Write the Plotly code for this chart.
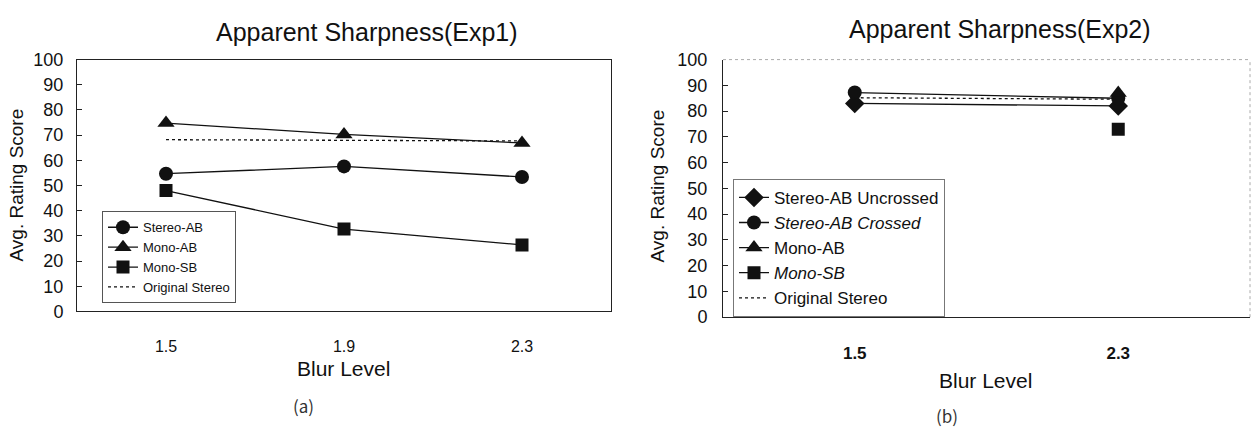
import plotly.graph_objects as go

# ---------------- data ----------------
blur_exp1 = ["1.5", "1.9", "2.3"]
stereo_ab_exp1 = [54.7, 57.6, 53.4]
mono_ab_exp1 = [74.8, 70.3, 66.9]
mono_sb_exp1 = [48.0, 32.7, 26.4]
original_exp1 = [68.2, 68.0, 67.7]

blur_exp2 = ["1.5", "2.3"]
stereo_uncrossed_exp2 = [83.0, 82.0]
stereo_crossed_exp2 = [87.2, 85.0]
mono_ab_exp2 = [None, 87.0]
mono_sb_exp2 = [None, 73.0]
original_exp2 = [85.2, 84.6]

y_ticks = list(range(0, 101, 10))

FONT = "Liberation Sans, Arial, sans-serif"
BLACK = "#111111"

fig = go.Figure()


def add(x, y, name, symbol, size, xa, ya, legend, dash="solid", mode="lines+markers"):
    fig.add_trace(go.Scatter(
        x=x, y=y, name=name, mode=mode, xaxis=xa, yaxis=ya, legend=legend,
        line=dict(color=BLACK, width=1.3, dash=dash),
        marker=dict(symbol=symbol, size=size, color=BLACK, line=dict(width=0)),
        connectgaps=False, hoverinfo="skip",
    ))


# left chart (Exp1)
add(blur_exp1, stereo_ab_exp1, "Stereo-AB", "circle", 14, "x", "y", "legend")
add(blur_exp1, mono_ab_exp1, "Mono-AB", "triangle-up", 15, "x", "y", "legend")
add(blur_exp1, mono_sb_exp1, "Mono-SB", "square", 13, "x", "y", "legend")
add(blur_exp1, original_exp1, "Original Stereo", "circle", 1, "x", "y", "legend", dash="dot", mode="lines")

# right chart (Exp2)
add(blur_exp2, stereo_uncrossed_exp2, "Stereo-AB Uncrossed", "diamond", 15, "x2", "y2", "legend2")
add(blur_exp2, stereo_crossed_exp2, "<i>Stereo-AB Crossed</i>", "circle", 14, "x2", "y2", "legend2")
add(blur_exp2, mono_ab_exp2, "Mono-AB", "triangle-up", 15, "x2", "y2", "legend2")
add(blur_exp2, mono_sb_exp2, "<i>Mono-SB</i>", "square", 13, "x2", "y2", "legend2")
add(blur_exp2, original_exp2, "Original Stereo", "circle", 1, "x2", "y2", "legend2", dash="dot", mode="lines")

W, H = 1252, 434


def px(v):
    return v / W


def py(v):
    return 1 - v / H


axis_common = dict(showgrid=False, zeroline=False, fixedrange=True,
                   linecolor="#222222", linewidth=1, showline=True)

fig.update_layout(
    width=W, height=H,
    margin=dict(l=0, r=0, t=0, b=0),
    paper_bgcolor="white", plot_bgcolor="white",
    font=dict(family=FONT, color=BLACK),
    xaxis=dict(**axis_common, type="category", range=[-0.5, 2.5],
               domain=[px(77), px(611)], anchor="y", mirror=True,
               ticks="", tickfont=dict(size=16), ticklabelstandoff=20),
    yaxis=dict(**axis_common, range=[0, 100], tickvals=y_ticks,
               domain=[py(316), py(52)], anchor="x", mirror=True,
               ticks="inside", ticklen=5, tickcolor="#222222",
               tickfont=dict(size=18), ticklabelstandoff=9),
    xaxis2=dict(**axis_common, type="category", range=[-0.5, 1.5],
                domain=[px(723), px(1250)], anchor="y2",
                ticks="", tickfont=dict(size=17, weight="bold"), ticklabelstandoff=20),
    yaxis2=dict(**axis_common, range=[0, 100], tickvals=y_ticks,
                domain=[py(322), py(52)], anchor="x2",
                ticks="inside", ticklen=5, tickcolor="#222222",
                tickfont=dict(size=18), ticklabelstandoff=11),
    legend=dict(x=px(102), y=py(211), xanchor="left", yanchor="top",
                bordercolor="#555555", borderwidth=1, bgcolor="white",
                font=dict(size=13, family=FONT), tracegroupgap=0, itemwidth=30),
    legend2=dict(x=px(733), y=py(177), xanchor="left", yanchor="top",
                 bordercolor="#777777", borderwidth=1, bgcolor="white",
                 font=dict(size=17, family=FONT), tracegroupgap=0, itemwidth=30),
    showlegend=True,
)

# dotted top/right border of the right plot area
fig.add_shape(type="line", xref="x2 domain", yref="y2 domain", x0=0, x1=1, y0=1, y1=1,
              line=dict(color="#aaaaaa", width=1, dash="dot"))
fig.add_shape(type="line", xref="x2 domain", yref="y2 domain", x0=1, x1=1, y0=0, y1=1,
              line=dict(color="#aaaaaa", width=1, dash="dot"))


def ann(text, x, y, size, angle=0, family=FONT, color=BLACK):
    fig.add_annotation(text=text, x=px(x), y=py(y), xref="paper", yref="paper",
                       xanchor="center", yanchor="middle", showarrow=False,
                       textangle=angle, font=dict(size=size, family=family, color=color))


ann("Apparent Sharpness(Exp1)", 367, 23, 25)
ann("Apparent Sharpness(Exp2)", 1000, 20, 25)
ann("Avg. Rating Score", 17, 184, 19, angle=-90)
ann("Avg. Rating Score", 657, 185, 19, angle=-90)
ann("Blur Level", 343, 376, 21)
ann("Blur Level", 985, 388, 21)
ann("(a)", 303, 415, 17, family="Noto Sans CJK KR, DejaVu Sans", color="#333333")
ann("(b)", 947, 425, 17, family="Noto Sans CJK KR, DejaVu Sans", color="#333333")

fig.write_html(
    "out.html",
    config={"displayModeBar": False, "staticPlot": True},
    post_script="document.body.style.margin='0';document.body.style.padding='0';",
)
